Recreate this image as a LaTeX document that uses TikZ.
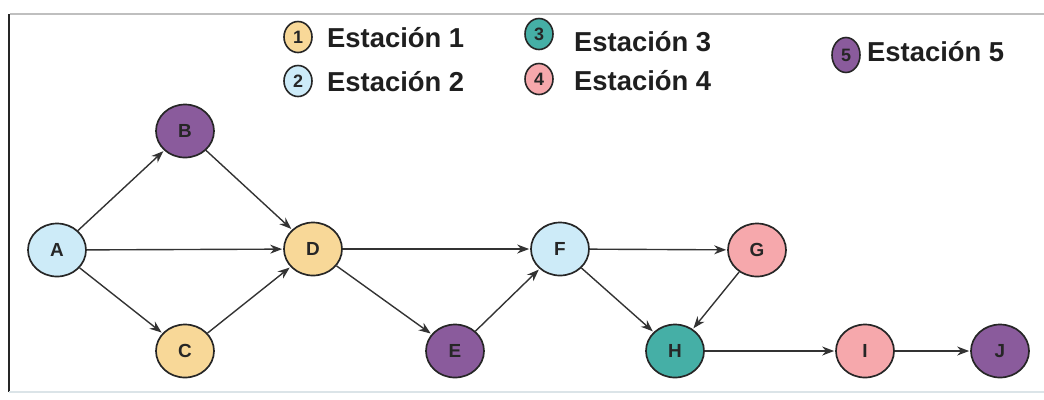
\documentclass[tikz,border=0pt]{standalone}
\usepackage{fontspec}
\setmainfont{Liberation Sans}
\usetikzlibrary{arrows.meta,shapes.geometric}
\definecolor{cyel}{HTML}{F8D898}
\definecolor{cblu}{HTML}{CDEBF8}
\definecolor{cteal}{HTML}{45AFA6}
\definecolor{cpink}{HTML}{F6A8AC}
\definecolor{cpur}{HTML}{8A5B9C}
\definecolor{cline}{HTML}{333333}
\tikzset{
  task/.style={ellipse, draw=black!85, line width=1.7pt, minimum width=58bp, minimum height=53bp, inner sep=0pt, font=\fontsize{19}{21}\selectfont\bfseries, text=black!85},
  lgd/.style={ellipse, draw=black!85, line width=1.6pt, minimum width=28bp, minimum height=31bp, inner sep=0pt, font=\fontsize{18}{20}\selectfont\bfseries, text=black!85},
  lgt/.style={anchor=base west, font=\fontsize{27.5}{32}\selectfont\bfseries, text=black!88, inner sep=0pt},
  arr/.style={-{Stealth[length=12bp,width=9bp]}, draw=cline, line width=1.4pt, shorten >=1pt}
}
\begin{document}
\begin{tikzpicture}[x=1bp,y=-1bp]
\useasboundingbox (0,0) rectangle (1044,399);
% frame
\draw[black!25, line width=2pt] (10,14) -- (1044,14);
\draw[black!85, line width=2pt] (9,14) -- (9,392);
\draw[cblu!80!black!40, line width=2pt] (9,392) -- (1044,392);
% legend
\node[lgd, fill=cyel] (l1) at (298,37) {1};
\node[lgt] (t1) at (327,47) {Estación 1};
\node[lgd, fill=cblu] (l2) at (298,81) {2};
\node[lgt] (t2) at (327,91) {Estación 2};
\node[lgd, fill=cteal] (l3) at (539,34) {3};
\node[lgt] (t3) at (574,51) {Estación 3};
\node[lgd, fill=cpink] (l4) at (539,79) {4};
\node[lgt] (t4) at (574,90) {Estación 4};
\node[lgd, fill=cpur, minimum height=35bp] (l5) at (846,55) {5};
\node[lgt] (t5) at (867,61) {Estación 5};
% nodes
\node[task, fill=cblu] (A) at (57,250) {A};
\node[task, fill=cpur] (B) at (185,131) {B};
\node[task, fill=cyel] (C) at (185,351) {C};
\node[task, fill=cyel] (D) at (313,249) {D};
\node[task, fill=cpur] (E) at (455,351) {E};
\node[task, fill=cblu] (F) at (560,249) {F};
\node[task, fill=cpink] (G) at (757,250) {G};
\node[task, fill=cteal] (H) at (675,351) {H};
\node[task, fill=cpink] (I) at (865,351) {I};
\node[task, fill=cpur] (J) at (1000,351) {J};
% edges
\draw[arr] (A) -- (B);
\draw[arr] (A) -- (D);
\draw[arr] (A) -- (C);
\draw[arr] (B) -- (D);
\draw[arr] (C) -- (D);
\draw[arr] (D) -- (F);
\draw[arr] (D) -- (E);
\draw[arr] (E) -- (F);
\draw[arr] (F) -- (G);
\draw[arr] (F) -- (H);
\draw[arr] (G) -- (H);
\draw[arr] (H) -- (I);
\draw[arr] (I) -- (J);
\end{tikzpicture}
\end{document}
